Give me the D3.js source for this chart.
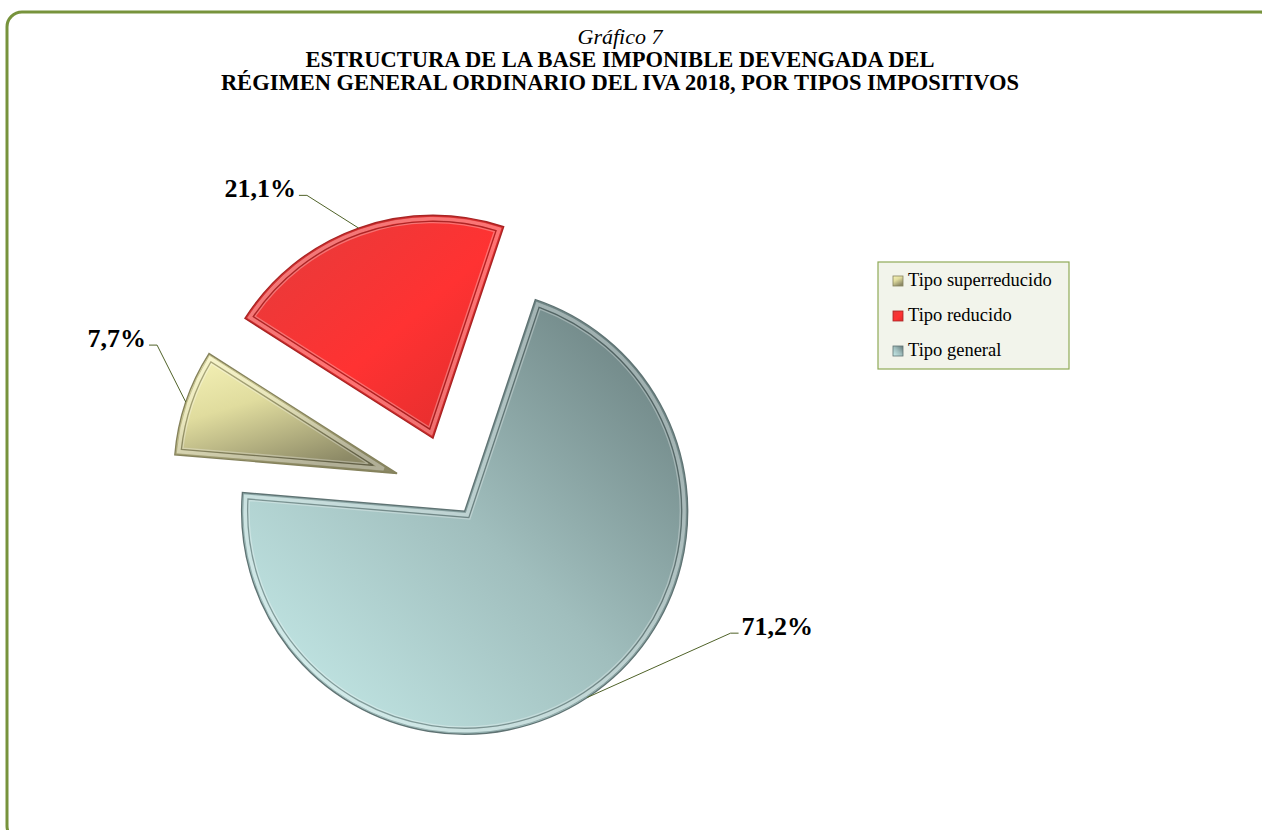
<!DOCTYPE html>
<html>
<head>
<meta charset="utf-8">
<script src="https://cdn.jsdelivr.net/npm/d3@7"></script>
<style>
  html, body { margin: 0; padding: 0; background: #ffffff; }
  svg { display: block; }
</style>
</head>
<body>
<svg id="chart" width="1262" height="830"></svg>
<script>
// ---- data ----
const categories = ["Tipo superreducido", "Tipo reducido", "Tipo general"];
const values = [7.7, 21.1, 71.2];
const valueLabels = ["7,7%", "21,1%", "71,2%"];
const titleLines = ["Gráfico 7",
  "ESTRUCTURA DE LA BASE IMPONIBLE DEVENGADA DEL",
  "RÉGIMEN GENERAL ORDINARIO DEL IVA 2018, POR TIPOS IMPOSITIVOS"];

// ---- style / layout ----
const W = 1262, H = 830;
const cx = 452, cy = 492, R = 223;
const firstSliceDeg = 274.8;
const explode = [58, 57, 23];
const labelOffset = [[-28.7, -57], [-51.6, -32.7], [143.3, -64.3]];
const labelSide = ["left", "left", "right"];
const palette = [
  { stops: [["0%", "#f8f5ba"], ["45%", "#e0dc9e"], ["100%", "#8c8966"]], dir: [0, 0, 0.55, 1], edge: "#85825c" },
  { stops: [["0%", "#e23c3c"], ["55%", "#ff3232"], ["100%", "#dc2d2d"]], dir: [0, 0, 1, 1], edge: "#a82424" },
  { stops: [["0%", "#c9efed"], ["50%", "#a0bebd"], ["100%", "#637878"]], dir: [0, 1, 1, 0], edge: "#5f7373" }
];

const svg = d3.select("#chart");
const defs = svg.append("defs");

palette.forEach((p, i) => {
  const g = defs.append("linearGradient").attr("id", "grad" + i)
    .attr("x1", p.dir[0]).attr("y1", p.dir[1]).attr("x2", p.dir[2]).attr("y2", p.dir[3]);
  p.stops.forEach(s => g.append("stop").attr("offset", s[0]).attr("stop-color", s[1]));
});

// frame
svg.append("rect")
  .attr("x", 7).attr("y", 12).attr("width", 1268).attr("height", 829)
  .attr("rx", 15).attr("ry", 15)
  .attr("fill", "none").attr("stroke", "#77933c").attr("stroke-width", 3);

// title
const serif = "'Liberation Serif', 'Times New Roman', serif";
const titleX = 620;
svg.append("text").attr("x", titleX).attr("y", 44).attr("text-anchor", "middle")
  .attr("font-family", serif).attr("font-style", "italic").attr("font-size", 22)
  .text(titleLines[0]);
svg.append("text").attr("x", titleX).attr("y", 67).attr("text-anchor", "middle")
  .attr("font-family", serif).attr("font-weight", "bold").attr("font-size", 22.5)
  .text(titleLines[1]);
svg.append("text").attr("x", titleX).attr("y", 90).attr("text-anchor", "middle")
  .attr("font-family", serif).attr("font-weight", "bold").attr("font-size", 22.5)
  .text(titleLines[2]);

// pie
const start = firstSliceDeg * Math.PI / 180;
const pie = d3.pie().sort(null).value(d => d).startAngle(start).endAngle(start + 2 * Math.PI);
const arcs = pie(values);
const arcGen = d3.arc().innerRadius(0).outerRadius(R);

function insetPath(a, t) {
  const a0 = a.startAngle, a1 = a.endAngle, phi = a1 - a0, m = (a0 + a1) / 2;
  const k = t / Math.sin(phi / 2);
  const P = [k * Math.sin(m), -k * Math.cos(m)];
  const Rp = R - t;
  const s = Math.sqrt(Rp * Rp - t * t);
  const e0 = [Math.sin(a0), -Math.cos(a0)], n0 = [Math.cos(a0), Math.sin(a0)];
  const e1 = [Math.sin(a1), -Math.cos(a1)], n1 = [-Math.cos(a1), -Math.sin(a1)];
  const Q0 = [t * n0[0] + s * e0[0], t * n0[1] + s * e0[1]];
  const Q1 = [t * n1[0] + s * e1[0], t * n1[1] + s * e1[1]];
  const p = d3.path();
  p.moveTo(P[0], P[1]);
  p.lineTo(Q0[0], Q0[1]);
  p.arc(0, 0, Rp, Math.atan2(Q0[1], Q0[0]), Math.atan2(Q1[1], Q1[0]), false);
  p.closePath();
  return p.toString();
}

const slices = svg.append("g").selectAll("g.slice").data(arcs).join("g")
  .attr("class", "slice")
  .attr("transform", (a, i) => {
    const m = (a.startAngle + a.endAngle) / 2;
    return `translate(${cx + explode[i] * Math.sin(m)},${cy - explode[i] * Math.cos(m)})`;
  });

slices.append("path").attr("d", arcGen)
  .attr("fill", (a, i) => `url(#grad${i})`)
  .attr("stroke", (a, i) => palette[i].edge).attr("stroke-width", 1.4)
  .attr("stroke-linejoin", "miter");
slices.append("path").attr("d", a => insetPath(a, 3.4))
  .attr("fill", "none").attr("stroke", "#ffffff").attr("stroke-opacity", 0.32)
  .attr("stroke-width", 3.8);
slices.append("path").attr("d", a => insetPath(a, 6))
  .attr("fill", "none").attr("stroke", "#000000").attr("stroke-opacity", 0.3)
  .attr("stroke-width", 1.3);
slices.append("path").attr("d", a => insetPath(a, 7.4))
  .attr("fill", "none").attr("stroke", "#ffffff").attr("stroke-opacity", 0.3)
  .attr("stroke-width", 1.3);
slices.append("path").attr("d", a => insetPath(a, 1.2))
  .attr("fill", "none").attr("stroke", (a, i) => palette[i].edge).attr("stroke-opacity", 0.5)
  .attr("stroke-width", 0.8);

// data labels with leader lines
const labelG = svg.append("g");
arcs.forEach((a, i) => {
  const m = (a.startAngle + a.endAngle) / 2;
  const ax = cx + explode[i] * Math.sin(m), ay = cy - explode[i] * Math.cos(m);
  const ex = ax + R * Math.sin(m), ey = ay - R * Math.cos(m);
  const bx = ex + labelOffset[i][0], by = ey + labelOffset[i][1];
  const hx = labelSide[i] === "left" ? bx - 8 : bx + 8;
  labelG.append("path")
    .attr("d", d3.line()([[ex, ey], [bx, by], [hx, by]]))
    .attr("fill", "none").attr("stroke", "#4f6228").attr("stroke-width", 1);
  labelG.append("text")
    .attr("x", labelSide[i] === "left" ? hx - 3 : hx + 3)
    .attr("y", by + 2)
    .attr("text-anchor", labelSide[i] === "left" ? "end" : "start")
    .attr("font-family", serif).attr("font-weight", "bold").attr("font-size", 26)
    .attr("fill", "#000")
    .text(valueLabels[i]);
});

// legend
const lg = svg.append("g").attr("transform", "translate(878,262)");
lg.append("rect").attr("width", 191).attr("height", 107)
  .attr("fill", "#f2f4eb").attr("stroke", "#8faa58").attr("stroke-width", 1.2);
const item = lg.selectAll("g.item").data(categories).join("g")
  .attr("class", "item")
  .attr("transform", (d, i) => `translate(15,${24 + i * 35})`);
item.append("rect").attr("x", 0).attr("y", -10).attr("width", 10).attr("height", 10)
  .attr("fill", (d, i) => `url(#grad${i})`)
  .attr("stroke", (d, i) => palette[i].edge).attr("stroke-width", 0.8);
item.append("text").attr("x", 15).attr("y", 0)
  .attr("font-family", serif).attr("font-size", 18.5).attr("fill", "#000")
  .text(d => d);
</script>
</body>
</html>
